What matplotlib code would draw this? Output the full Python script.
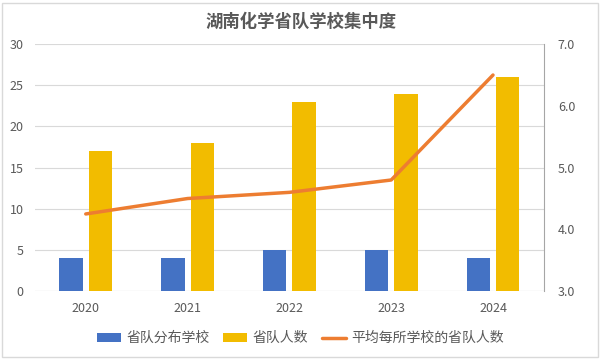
import numpy as np
import matplotlib.pyplot as plt
from matplotlib.patches import Rectangle

plt.rcParams['font.family'] = ['Noto Sans CJK SC', 'DejaVu Sans']

years = ['2020', '2021', '2022', '2023', '2024']
schools = [4, 4, 5, 5, 4]
members = [17, 18, 23, 24, 26]
avg_per_school = [4.25, 4.5, 4.6, 4.8, 6.5]

text_color = '#595959'
grid_color = '#d9d9d9'

fig = plt.figure(figsize=(6.01, 3.59), dpi=100)
ax = fig.add_axes([0.058, 0.189, 0.847, 0.688])
ax2 = ax.twinx()

x = np.arange(len(years))
w = 0.23
ax.bar(x - 0.145, schools, w, color='#4472C4', label='省队分布学校', zorder=2)
ax.bar(x + 0.145, members, w, color='#F2BC00', label='省队人数', zorder=2)
ax2.plot(x, avg_per_school, color='#ED7D31', linewidth=2.5,
         solid_capstyle='round', label='平均每所学校的省队人数')

ax.set_xlim(-0.5, len(years) - 0.5)
ax.set_ylim(0, 30)
ax.set_yticks(range(0, 31, 5))
ax2.set_ylim(3.0, 7.0)
ax2.set_yticks(np.arange(3.0, 7.01, 1.0))
ax2.set_yticklabels([f'{v:.1f}' for v in np.arange(3.0, 7.01, 1.0)])

ax.set_xticks(x)
ax.set_xticklabels(years)
ax.grid(axis='y', color=grid_color, linewidth=0.8, zorder=0)
ax.set_axisbelow(True)

for a in (ax, ax2):
    for s in ('top', 'left', 'bottom', 'right'):
        a.spines[s].set_visible(False)
    a.tick_params(length=0, colors=text_color, labelsize=9)
ax.tick_params(axis='x', pad=8)
ax.tick_params(axis='y', pad=8)
ax2.tick_params(axis='y', pad=10)
ax2.spines['right'].set_visible(True)
ax2.spines['right'].set_color('#a6a6a6')
ax.axhline(0, color=grid_color, linewidth=0.8, zorder=1)

fig.text(0.5, 0.938, '湖南化学省队学校集中度', ha='center', va='center',
         fontsize=12.5, fontweight='bold', color=text_color)

h1, l1 = ax.get_legend_handles_labels()
h2, l2 = ax2.get_legend_handles_labels()
fig.legend(h1 + h2, l1 + l2, loc='center', bbox_to_anchor=(0.5, 0.058),
           ncol=3, frameon=False, fontsize=10, labelcolor=text_color,
           handlelength=1.7, handleheight=0.6, columnspacing=1.0,
           handletextpad=0.4)

fig.patches.append(Rectangle((0.004, 0.006), 0.991, 0.986, transform=fig.transFigure,
                             fill=False, edgecolor='#d9d9d9', linewidth=1))

fig.savefig('out.png', dpi=100)
